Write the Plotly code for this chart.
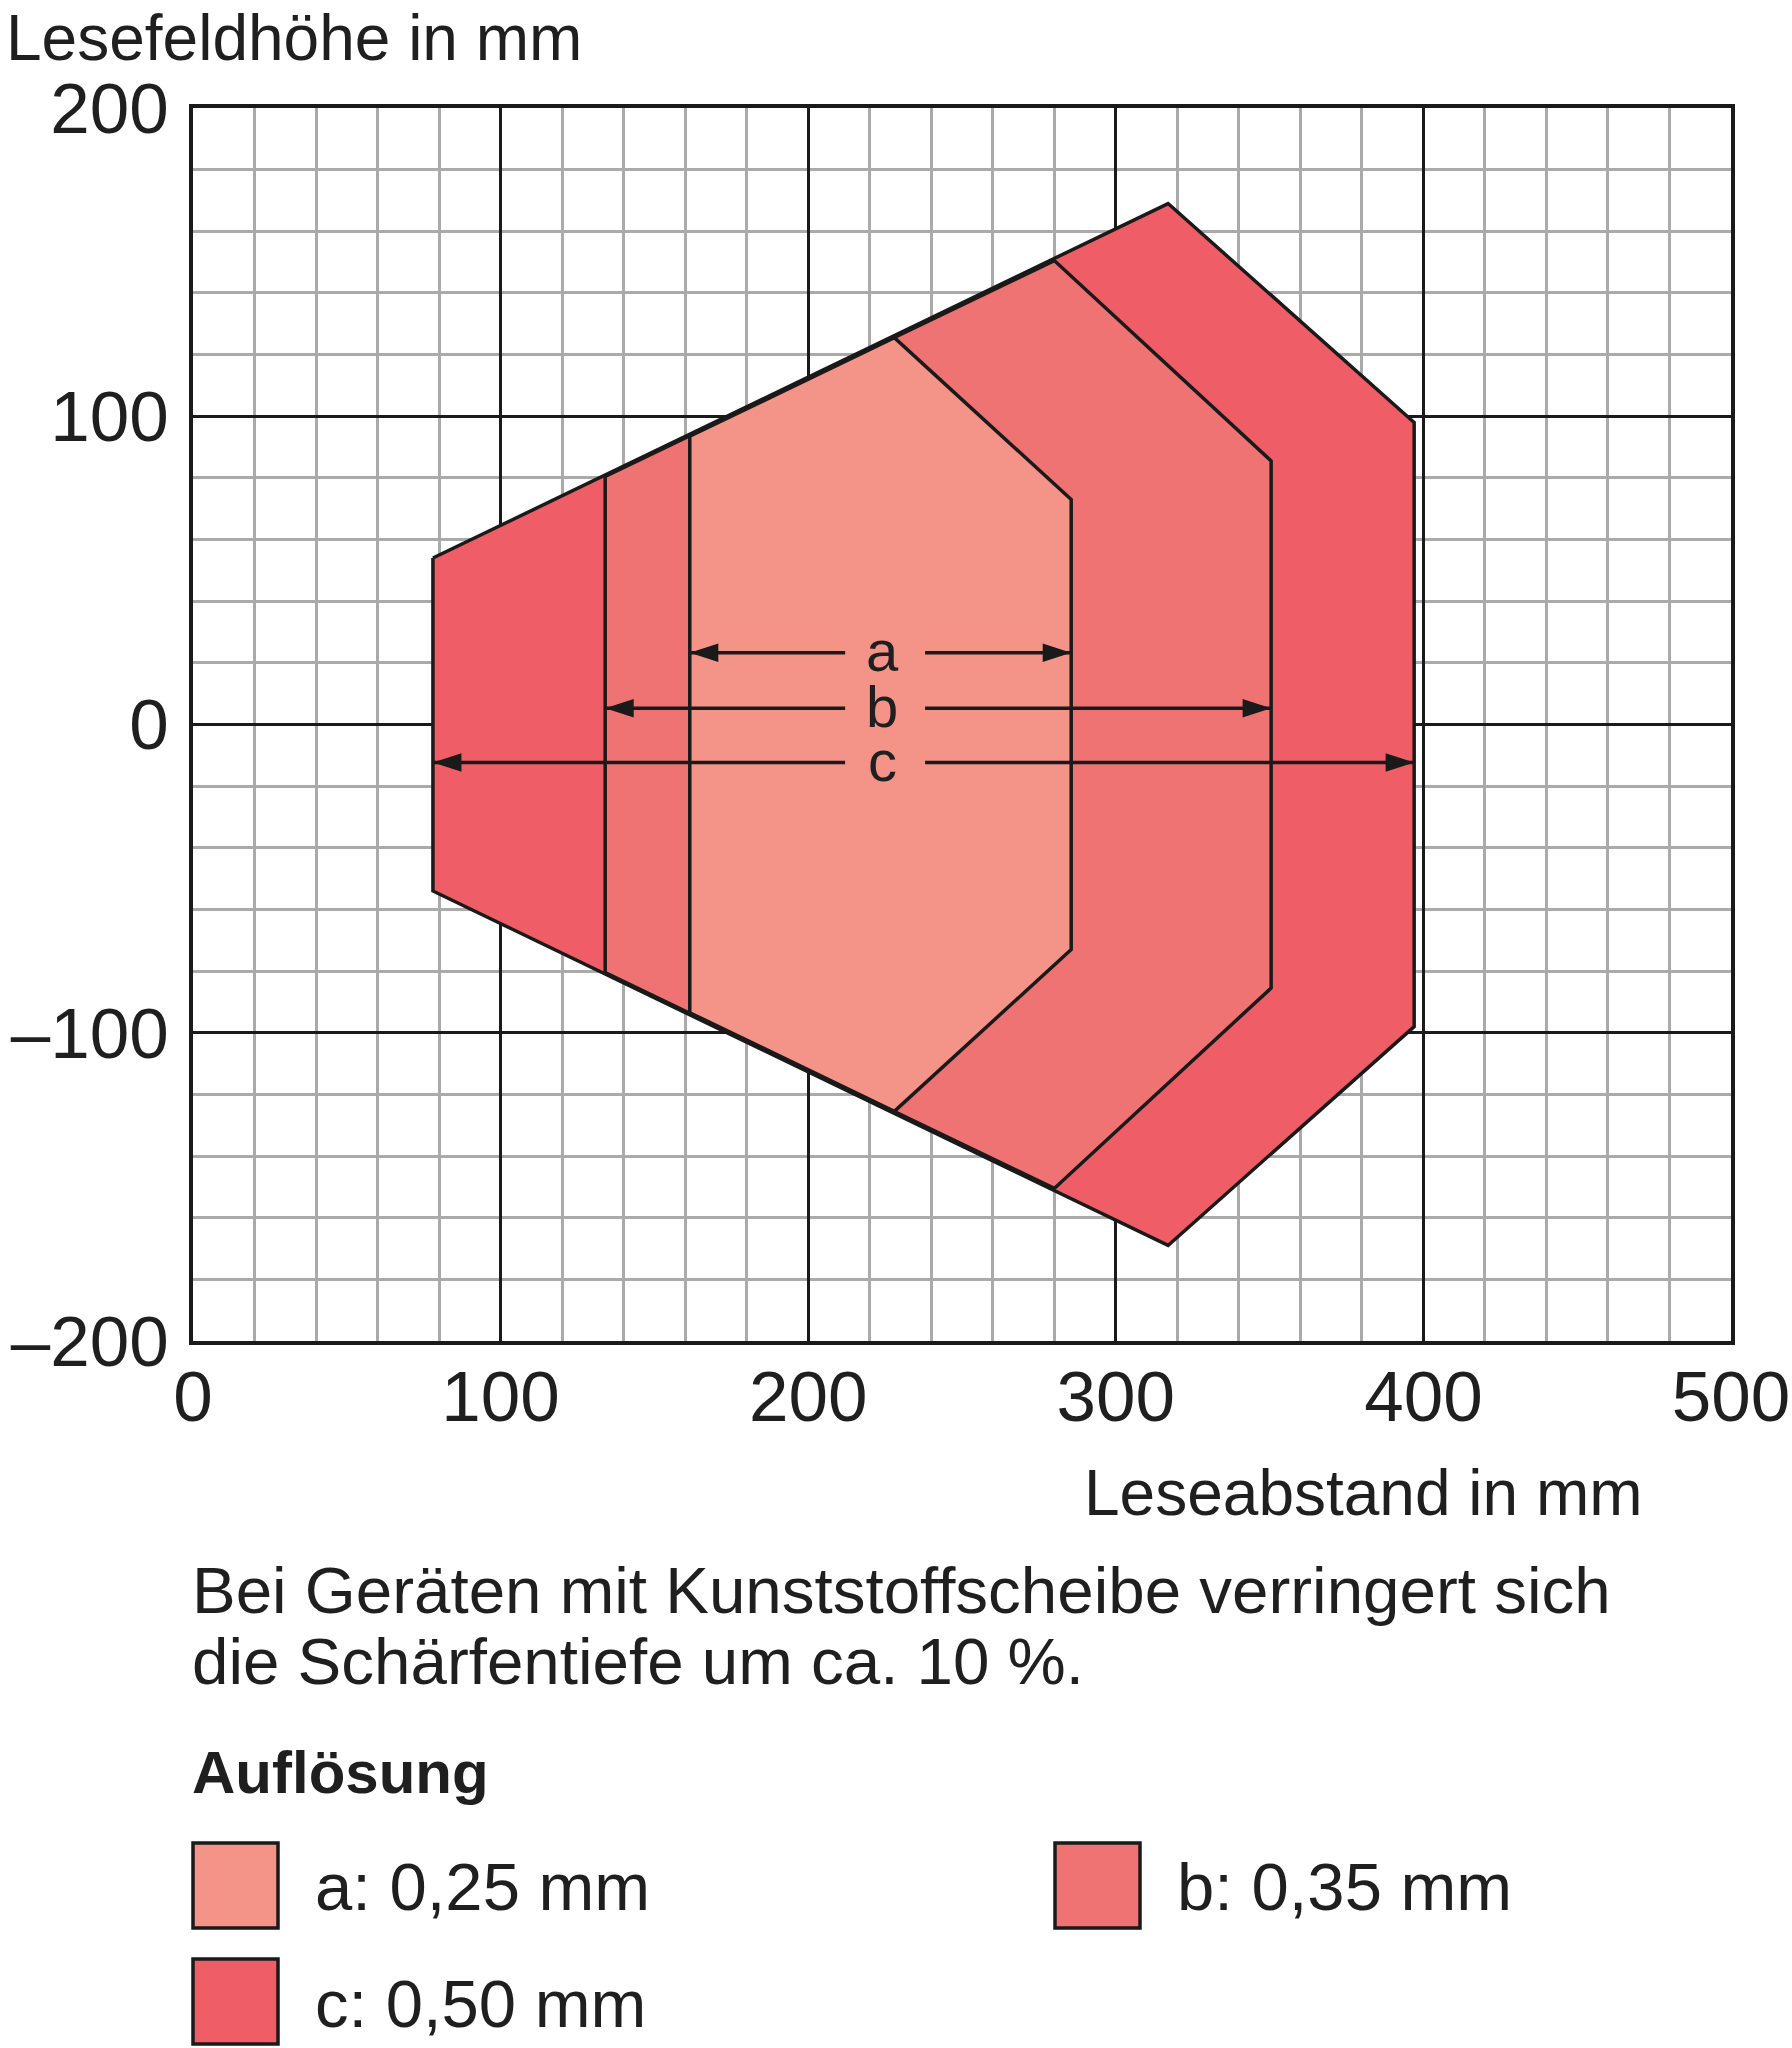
import plotly.graph_objects as go

# ---------------- data ----------------
x_tickvals = [0, 100, 200, 300, 400, 500]
x_ticklabels = ["0", "100", "200", "300", "400", "500"]
y_tickvals = [-200, -100, 0, 100, 200]
y_ticklabels = ["–200", "–100", "0", "100", "200"]

# reading field outlines (Leseabstand, Lesefeldhöhe) in mm
c_dist = [78, 317, 397, 397, 317, 78]
c_height = [54, 169, 98, -98, -169, -54]
b_dist = [134, 280, 350.5, 350.5, 280, 134]
b_height = [80.5, 150.5, 85.5, -85.5, -150.5, -80.5]
a_dist = [161.5, 228, 285.5, 285.5, 228, 161.5]
a_height = [93.5, 125.5, 73, -73, -125.5, -93.5]

legend_labels = ["a: 0,25 mm", "b: 0,35 mm", "c: 0,50 mm"]
fill_colors = ["#F49388", "#F07374", "#EF5E66"]

# dimension arrows
arrow_letters = ["a", "b", "c"]
arrow_heights = [23.3, 5.3, -12.3]
letter_dist = 224
gap_from = 212
gap_to = 238

FONT = "Liberation Sans, Arial, sans-serif"
TXT = "#1f1f1f"

# ---------------- layout helpers ----------------
W, H = 1792, 2048
L, R, T, B = 193, 61, 108, 707
PW, PH = W - L - R, H - T - B


def px(xp):
    return (xp - L) / PW


def py(yp):
    return 1 - (yp - T) / PH


fig = go.Figure()

polys = [(c_dist, c_height, fill_colors[2]),
         (b_dist, b_height, fill_colors[1]),
         (a_dist, a_height, fill_colors[0])]
for xs, ys, col in polys:
    fig.add_trace(go.Scatter(
        x=xs + [xs[0]], y=ys + [ys[0]], mode="lines", fill="toself",
        fillcolor=col, line=dict(color="#1a1a1a", width=3.5),
        hoverinfo="skip", showlegend=False))

# dimension arrow lines
lx, ly, hx, hy, hang = [], [], [], [], []
for dists, yv in zip([a_dist, b_dist, c_dist], arrow_heights):
    left, right = min(dists), max(dists)
    lx += [left, gap_from, None, gap_to, right, None]
    ly += [yv, yv, None, yv, yv, None]
    hx += [left, right]
    hy += [yv, yv]
    hang += [-90, 90]

fig.add_trace(go.Scatter(x=lx, y=ly, mode="lines",
                         line=dict(color="#1a1a1a", width=3.5),
                         hoverinfo="skip", showlegend=False))
fig.add_trace(go.Scatter(x=hx, y=hy, mode="markers",
                         marker=dict(symbol="arrow", size=30, angle=hang,
                                     color="#1a1a1a", line=dict(width=0)),
                         hoverinfo="skip", showlegend=False))

annotations = []
for letter, yv in zip(arrow_letters, arrow_heights):
    annotations.append(dict(x=letter_dist, y=yv, xref="x", yref="y", text=letter,
                            showarrow=False, xanchor="center", yanchor="middle",
                            yshift=2, font=dict(family=FONT, size=58, color=TXT)))

# axis titles
annotations.append(dict(x=px(4), y=py(38), xref="paper", yref="paper",
                        text="Lesefeldhöhe in mm", showarrow=False,
                        xanchor="left", yanchor="middle",
                        font=dict(family=FONT, size=64, color=TXT)))
annotations.append(dict(x=px(1645), y=py(1493), xref="paper", yref="paper",
                        text="Leseabstand in mm", showarrow=False,
                        xanchor="right", yanchor="middle",
                        font=dict(family=FONT, size=64, color=TXT)))

# note
annotations.append(dict(x=px(190), y=py(1591), xref="paper", yref="paper",
                        text="Bei Geräten mit Kunststoffscheibe verringert sich",
                        showarrow=False, xanchor="left", yanchor="middle",
                        font=dict(family=FONT, size=65.5, color=TXT)))
annotations.append(dict(x=px(190), y=py(1661), xref="paper", yref="paper",
                        text="die Schärfentiefe um ca. 10 %.",
                        showarrow=False, xanchor="left", yanchor="middle",
                        font=dict(family=FONT, size=65.5, color=TXT)))
annotations.append(dict(x=px(190), y=py(1772), xref="paper", yref="paper",
                        text="<b>Auflösung</b>",
                        showarrow=False, xanchor="left", yanchor="middle",
                        font=dict(family=FONT, size=60, color=TXT)))

# legend
legend_pos = [(193, 1843, 313), (1055, 1843, 1175), (193, 1959, 313)]
shapes = []
for (bx, by, tx), lab, col in zip(legend_pos, legend_labels, fill_colors):
    shapes.append(dict(type="rect", xref="paper", yref="paper",
                       x0=px(bx), x1=px(bx + 85), y0=py(by), y1=py(by + 85),
                       fillcolor=col, line=dict(color="#1a1a1a", width=3.5)))
    annotations.append(dict(x=px(tx), y=py(by + 44), xref="paper", yref="paper",
                            text=lab, showarrow=False, xanchor="left",
                            yanchor="middle",
                            font=dict(family=FONT, size=67, color=TXT)))

axis_common = dict(showline=True, mirror=True, linecolor="#1a1a1a", linewidth=4,
                   showgrid=True, gridcolor="#1a1a1a", gridwidth=3,
                   zeroline=False, ticks="", automargin=False,
                   tickfont=dict(family=FONT, size=71, color=TXT))

fig.update_layout(
    width=W, height=H,
    margin=dict(l=L, r=R, t=T, b=B, autoexpand=False),
    paper_bgcolor="white", plot_bgcolor="white",
    showlegend=False,
    xaxis=dict(range=[0, 500], tickvals=x_tickvals, ticktext=x_ticklabels,
               minor=dict(dtick=20, tick0=0, showgrid=True,
                          gridcolor="#AAAAAA", gridwidth=3),
               ticklabelstandoff=-9, **axis_common),
    yaxis=dict(range=[-200, 200], tickvals=y_tickvals, ticktext=y_ticklabels,
               minor=dict(dtick=20, tick0=0, showgrid=True,
                          gridcolor="#AAAAAA", gridwidth=3),
               ticklabelstandoff=6, **axis_common),
    annotations=annotations,
    shapes=shapes,
)

fig.write_html("out.html")
